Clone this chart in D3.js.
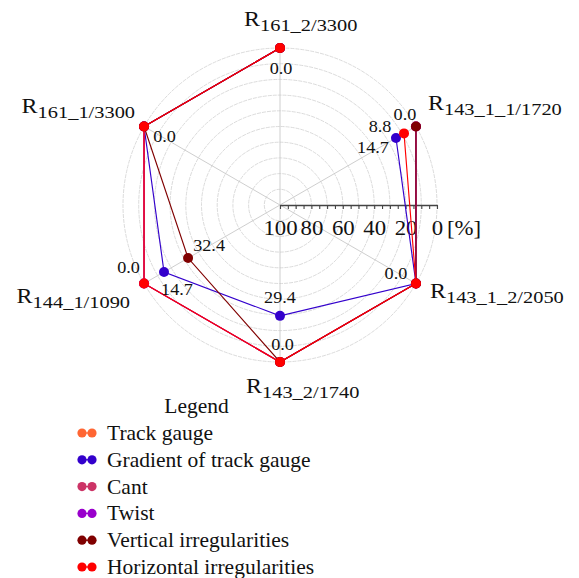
<!DOCTYPE html>
<html>
<head>
<meta charset="utf-8">
<script src="https://cdn.jsdelivr.net/npm/d3@7"></script>
<style>
  html, body { margin: 0; padding: 0; background: #fff; }
  svg { display: block; font-family: "Liberation Serif", "Times New Roman", Times, serif; }
</style>
</head>
<body>
<svg id="chart" width="579" height="578"></svg>
<script>
// Track sections (radar axes), clockwise starting at the upper-right spoke
const sections = ["143_1_1/1720", "143_1_2/2050", "143_2/1740", "144_1/1090", "161_1/3300", "161_2/3300"];

// Share of exceedances per parameter [%], one value per section
const seriesNames = ["Track gauge", "Gradient of track gauge", "Cant", "Twist",
                     "Vertical irregularities", "Horizontal irregularities"];
const trackGauge    = [0, 0, 0, 0, 0, 0];
const gradientGauge = [14.7, 0, 29.4, 14.7, 0, 0];
const cant          = [0, 0, 0, 0, 0, 0];
const twist         = [0, 0, 0, 0, 0, 0];
const verticalIrr   = [0, 0, 0, 32.4, 0, 0];
const horizontalIrr = [8.8, 0, 0, 0, 0, 0];
const seriesValues = [trackGauge, gradientGauge, cant, twist, verticalIrr, horizontalIrr];

// Radial axis ticks [%]
const radialTicks = [100, 80, 60, 40, 20, 0];

// ---- styling / layout ----
const colors = ["#ff6633", "#3300cc", "#cc3366", "#9900cc", "#800000", "#ff0000"];
const cx = 280, cy = 205, R = 157;
const TEXT_SX = 1.2;     // horizontal stretch of the section lettering
const TICK_SX = 1.14;
const VALUE_SX = 1.07;
const SERIF = "'Liberation Serif', 'Times New Roman', Times, serif";

// label nudges relative to the outer end of each spoke: [dx, dy, anchor]
const sectionLabelNudge = [
  [12, -16.5, "start"], [14, 14.5, "start"], [-34, 31, "start"],
  [-14, 19.5, "end"], [-9, -13.5, "end"], [-36, -22, "start"]
];
// value label nudges for zero values (per spoke) and for other values (per series|spoke)
const zeroLabelNudge = [[-11, -6.5], [-20, -4.5], [2.5, -12], [-15.5, -10.5], [20.5, 15.5], [1, 26]];
const valueLabelNudge = { "1|0": [-23, 14.5], "1|2": [0, -13], "1|3": [13, 23], "4|3": [21, -7], "5|0": [-24, -1] };

const svg = d3.select("#chart");
const g = svg.append("g").attr("transform", `translate(${cx},${cy})`);

const r = d3.scaleLinear().domain([100, 0]).range([0, R]);
const angle = d3.scaleLinear().domain([0, sections.length]).range([Math.PI / 3, Math.PI / 3 + 2 * Math.PI]);
const px = (i, v) => r(v) * Math.sin(angle(i));
const py = (i, v) => -r(v) * Math.cos(angle(i));

// concentric grid every 10 %
g.append("g").selectAll("circle")
  .data(d3.range(90, -1, -10))
  .join("circle")
  .attr("r", d => r(d))
  .attr("fill", "none")
  .attr("stroke", "#d2d2d2")
  .attr("stroke-width", 0.8)
  .attr("stroke-dasharray", "4,1");

// spokes
g.append("g").selectAll("line")
  .data(sections)
  .join("line")
  .attr("x1", 0).attr("y1", 0)
  .attr("x2", (d, i) => px(i, 0))
  .attr("y2", (d, i) => py(i, 0))
  .attr("stroke", "#c8c8c8")
  .attr("stroke-width", 0.9);

// radial scale drawn along the right-hand horizontal
const axisScale = d3.scaleLinear().domain([100, 0]).range([0, R]);
const axisG = g.append("g")
  .call(d3.axisBottom(axisScale)
    .tickValues(d3.range(0, 101, 5))
    .tickFormat(d => radialTicks.includes(d) ? d : "")
    .tickSize(4)
    .tickSizeOuter(0));
axisG.attr("font-family", SERIF);
axisG.select(".domain").attr("stroke", "#444").attr("stroke-width", 1.6);
axisG.selectAll(".tick line").attr("stroke", "#444").attr("stroke-width", 1.1);
axisG.selectAll(".tick text")
  .attr("y", 30).attr("dy", null)
  .attr("fill", "#111")
  .style("font-family", SERIF)
  .style("font-size", "20px")
  .attr("transform", `scale(${TICK_SX},1)`);
axisG.append("text")
  .attr("transform", `translate(${axisScale(0) + 10},30) scale(${TICK_SX},1)`)
  .attr("text-anchor", "start")
  .attr("fill", "#111")
  .style("font-family", SERIF)
  .style("font-size", "20px")
  .text("[%]");

// series polylines (left open between the last and first spoke)
const line = d3.lineRadial()
  .angle((d, i) => angle(i))
  .radius(d => r(d));

const seriesG = g.append("g").selectAll("g")
  .data(seriesValues)
  .join("g");

seriesG.append("path")
  .attr("d", d => line(d))
  .attr("fill", "none")
  .attr("stroke", (d, k) => colors[k])
  .attr("stroke-width", 1.15);

seriesG.selectAll("circle")
  .data((d, k) => d.map((v, i) => ({ v, i, k })))
  .join("circle")
  .attr("cx", d => px(d.i, d.v))
  .attr("cy", d => py(d.i, d.v))
  .attr("r", 5)
  .attr("fill", d => colors[d.k]);

// value labels (coinciding labels of equal value are written once)
const labelMap = new Map();
seriesValues.forEach((vals, k) => vals.forEach((v, i) => {
  const n = v === 0 ? zeroLabelNudge[i] : (valueLabelNudge[k + "|" + i] || [0, -8]);
  const x = px(i, v) + n[0], y = py(i, v) + n[1];
  const key = `${x.toFixed(1)}|${y.toFixed(1)}|${v}`;
  if (!labelMap.has(key)) labelMap.set(key, { x, y, v });
}));
g.append("g").selectAll("text")
  .data([...labelMap.values()])
  .join("text")
  .attr("transform", d => `translate(${d.x},${d.y}) scale(${VALUE_SX},1)`)
  .attr("text-anchor", "middle")
  .attr("fill", "#111")
  .style("font-size", "17px")
  .text(d => d3.format(".1f")(d.v));

// section labels: R with subscript
const secText = g.append("g").selectAll("text")
  .data(sections)
  .join("text")
  .attr("transform", (d, i) => {
    const n = sectionLabelNudge[i];
    return `translate(${px(i, 0) + n[0]},${py(i, 0) + n[1]}) scale(${TEXT_SX},1)`;
  })
  .attr("text-anchor", (d, i) => sectionLabelNudge[i][2])
  .attr("fill", "#111");
secText.append("tspan").style("font-size", "20px").text("R");
secText.append("tspan").style("font-size", "17px").attr("dy", 5).text(d => d);

// legend
const legend = svg.append("g");
legend.append("text")
  .attr("x", 196.5).attr("y", 413)
  .attr("text-anchor", "middle")
  .attr("fill", "#111")
  .style("font-size", "21.5px")
  .text("Legend");

const rowY = d3.scalePoint().domain(seriesNames).range([433, 567]);
const item = legend.selectAll("g.item")
  .data(seriesNames)
  .join("g")
  .attr("class", "item")
  .attr("transform", d => `translate(0,${rowY(d)})`);
item.append("line")
  .attr("x1", 82).attr("x2", 92)
  .attr("stroke", (d, k) => colors[k]).attr("stroke-width", 1.3);
item.selectAll("circle")
  .data((d, k) => [82, 92].map(x => ({ x, k })))
  .join("circle")
  .attr("cx", d => d.x).attr("cy", 0).attr("r", 4.6)
  .attr("fill", d => colors[d.k]);
item.append("text")
  .attr("x", 107).attr("y", 7)
  .attr("fill", "#111")
  .style("font-size", "21.5px")
  .text(d => d);
</script>
</body>
</html>
